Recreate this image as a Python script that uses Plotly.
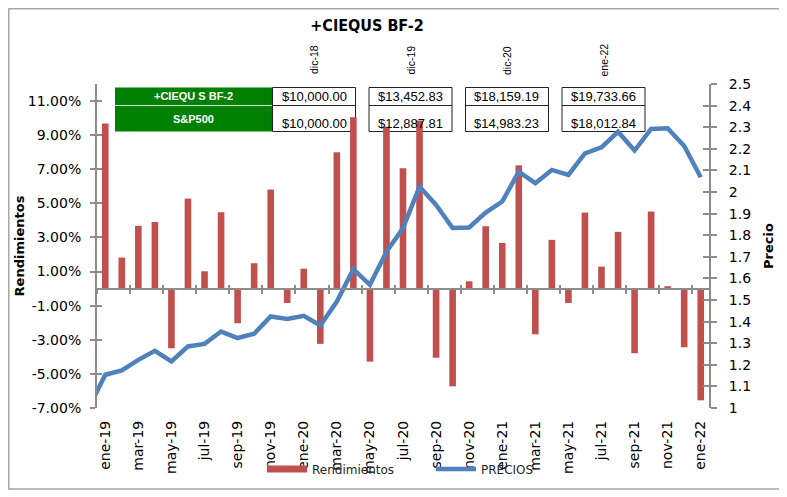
import plotly.graph_objects as go

# ---------------- data ----------------
months = ["ene-19", "feb-19", "mar-19", "abr-19", "may-19", "jun-19", "jul-19", "ago-19", "sep-19",
          "oct-19", "nov-19", "dic-19", "ene-20", "feb-20", "mar-20", "abr-20", "may-20", "jun-20",
          "jul-20", "ago-20", "sep-20", "oct-20", "nov-20", "dic-20", "ene-21", "feb-21", "mar-21",
          "abr-21", "may-21", "jun-21", "jul-21", "ago-21", "sep-21", "oct-21", "nov-21", "dic-21",
          "ene-22"]
rendimientos = [9.68, 1.82, 3.68, 3.91, -3.50, 5.28, 1.02, 4.48, -2.03,
                1.49, 5.81, -0.84, 1.17, -3.24, 8.00, 10.05, -4.28, 9.50,
                7.06, 9.86, -4.05, -5.73, 0.43, 3.66, 2.68, 7.23, -2.68,
                2.86, -0.84, 4.46, 1.29, 3.33, -3.79, 4.52, 0.14, -3.44,
                -6.55]
precio_meses = ["dic-18"] + months
precios = [1.000, 1.154, 1.174, 1.223, 1.265, 1.216, 1.285, 1.297, 1.354, 1.324,
           1.344, 1.424, 1.412, 1.427, 1.382, 1.493, 1.643, 1.570, 1.723,
           1.833, 2.025, 1.940, 1.833, 1.836, 1.905, 1.956, 2.094, 2.041,
           2.102, 2.079, 2.179, 2.207, 2.279, 2.192, 2.292, 2.295, 2.213,
           2.068]
tick_labels = months[::2]

table_headers = ["dic-18", "dic-19", "dic-20", "ene-22"]
table_rows = ["+CIEQU S BF-2", "S&P500"]
ciequs_vals = ["$10,000.00", "$13,452.83", "$18,159.19", "$19,733.66"]
sp500_vals = ["$10,000.00", "$12,887.81", "$14,983.23", "$18,012.84"]

# ---------------- layout geometry ----------------
# page body margin of the generated html (the figure is drawn 8px right/down)
OFF = 8
SW, SH = 787, 497              # screen size
W, H = SW - OFF, SH - OFF      # figure size
# plot area in screen pixels
SL, SR, ST, SB = 97, 709, 84, 408
L, R, T, B = SL - OFF, SR - OFF, ST - OFF, SB - OFF
Y_RANGE = [-7, 12]
Y2_RANGE = [1, 2.5]
Y_STEP, Y2_STEP = 2, 0.1

y_tickvals = list(range(Y_RANGE[0], Y_RANGE[1], Y_STEP))
y_ticktext = [f"{v:.2f}%" for v in y_tickvals]


def px(sx):
    """screen x pixel -> paper coordinate"""
    return (sx - SL) / (SR - SL)


def py(sy):
    """screen y pixel -> paper coordinate"""
    return (SB - sy) / (SB - ST)


def cx(sx):
    return (sx - OFF) / W


def cy(sy):
    return (SH - sy) / H


AX = "#8C8C8C"
RED = "#C0504D"
BLUE = "#4F81BD"
GREEN = "#008000"
FONT = "DejaVu Sans"

fig = go.Figure()
fig.add_trace(go.Bar(x=months, y=rendimientos, name="Rendimientos", legendgroup="rend", showlegend=False,
                     marker=dict(color=RED, line=dict(width=0)), width=0.4))
fig.add_trace(go.Scatter(x=precio_meses, y=precios, name="PRECIOS", yaxis="y2", legendrank=2,
                         mode="lines", line=dict(color=BLUE, width=4.5)))
# legend swatch for the bars (Excel-style wide rectangle)
fig.add_trace(go.Scatter(x=[None], y=[None], name="Rendimientos", legendgroup="rend", legendrank=1,
                         mode="lines", line=dict(color=RED, width=7), hoverinfo="skip"))
# helper (empty) traces so that the tick-mark overlay axes are drawn
for xa, ya in [("x2", "y"), ("x3", "y"), ("x", "y3"), ("x", "y4")]:
    fig.add_trace(go.Scatter(x=[None], y=[None], xaxis=xa, yaxis=ya, showlegend=False,
                             hoverinfo="skip", mode="lines"))

zero_pos = (0 - Y_RANGE[0]) / (Y_RANGE[1] - Y_RANGE[0])
ncat = len(precio_meses)

common_x_ticks = dict(type="linear", range=[0.5, ncat - 0.5], tickmode="linear", tick0=2.5, dtick=2,
                      showticklabels=False, showgrid=False, zeroline=False, automargin=False,
                      anchor="free", position=zero_pos, overlaying="x",
                      tickcolor=AX, tickwidth=1.5, ticklen=4)

fig.update_layout(
    template="none",
    width=W, height=H,
    margin=dict(l=L, r=W - R, t=T, b=H - B, pad=0, autoexpand=False),
    paper_bgcolor="white", plot_bgcolor="rgba(0,0,0,0)",
    font=dict(family=FONT, color="black", size=14),
    showlegend=True,
    bargap=0.6,
    title=dict(text="<b>+CIEQUS BF-2</b>", x=cx(367), xanchor="center", y=cy(25), yanchor="middle",
               font=dict(family="Liberation Sans Narrow, DejaVu Sans Condensed", size=16, color="black")),
    xaxis=dict(type="category", categoryorder="array", categoryarray=precio_meses, automargin=False,
               range=[0.5, ncat - 0.5], tickmode="array", tickvals=tick_labels, ticktext=tick_labels,
               tickangle=-90, showline=False, ticks="", showgrid=False, zeroline=False,
               tickfont=dict(family=FONT, size=14, color="black"), ticklabelstandoff=9),
    xaxis2=dict(common_x_ticks, ticks="outside", showline=True, linecolor=AX, linewidth=2),
    xaxis3=dict(common_x_ticks, ticks="inside", showline=False),
    yaxis=dict(range=Y_RANGE, tickmode="array", tickvals=y_tickvals, ticktext=y_ticktext,
               ticks="outside", ticklen=5, tickcolor=AX, tickwidth=1.5, automargin=False,
               showline=True, linecolor=AX, linewidth=2, showgrid=False, zeroline=False,
               tickfont=dict(family=FONT, size=14, color="black"), ticklabelstandoff=6,
               title=dict(text="<b>Rendimientos</b>", standoff=0,
                          font=dict(family=FONT, size=13, color="black"))),
    yaxis3=dict(range=Y_RANGE, tickmode="array", tickvals=y_tickvals, overlaying="y",
                side="left", ticks="inside", ticklen=5, tickcolor=AX, tickwidth=1.5, automargin=False,
                showticklabels=False, showline=False, showgrid=False, zeroline=False),
    yaxis2=dict(range=Y2_RANGE, tickmode="linear", tick0=Y2_RANGE[0], dtick=Y2_STEP, overlaying="y",
                side="right", ticks="outside", ticklen=6, tickcolor=AX, tickwidth=1.5, automargin=False,
                showline=True, linecolor=AX, linewidth=2, showgrid=False, zeroline=False,
                tickfont=dict(family=FONT, size=14, color="black"), ticklabelstandoff=9,
                title=dict(text="<b>Precio</b>", standoff=14,
                           font=dict(family=FONT, size=13, color="black"))),
    yaxis4=dict(range=Y2_RANGE, tickmode="linear", tick0=Y2_RANGE[0], dtick=Y2_STEP, overlaying="y",
                side="right", ticks="inside", ticklen=6, tickcolor=AX, tickwidth=1.5, automargin=False,
                showticklabels=False, showline=False, showgrid=False, zeroline=False),
    legend=dict(orientation="h", xref="container", yref="container", x=cx(262), xanchor="left",
                y=cy(469), yanchor="middle", bgcolor="rgba(0,0,0,0)",
                font=dict(family=FONT, size=12, color="#262626"),
                itemwidth=40, entrywidth=114, traceorder="normal"),
)

shapes = []
annotations = []
# outer chart border
shapes.append(dict(type="rect", xref="paper", yref="paper", x0=px(OFF + 0.8), x1=px(780), y0=py(489),
                   y1=py(OFF + 0.8), line=dict(color="#A6A6A6", width=1.5), fillcolor="rgba(0,0,0,0)",
                   layer="below"))

# table geometry (screen pixels)
tab_top, tab_mid, tab_bot = 87.5, 105.5, 131.5
lab_x0, lab_x1 = 115, 272.5
box_w, box_pitch = 83, 96.5
shapes.append(dict(type="rect", xref="paper", yref="paper", x0=px(lab_x0), x1=px(lab_x1),
                   y0=py(tab_bot), y1=py(tab_top), fillcolor=GREEN, line=dict(width=0), layer="below"))
shapes.append(dict(type="line", xref="paper", yref="paper", x0=px(lab_x0), x1=px(lab_x1),
                   y0=py(tab_mid), y1=py(tab_mid), line=dict(color="#D8E8D8", width=1), layer="below"))
row_y = [96.5, 118.5]
for r, label in enumerate(table_rows):
    annotations.append(dict(xref="paper", yref="paper", x=px((lab_x0 + lab_x1) / 2), y=py(row_y[r]),
                            text="<b>" + label + "</b>", showarrow=False, xanchor="center", yanchor="middle",
                            font=dict(family="Liberation Sans", size=11, color="white")))
for k, hdr in enumerate(table_headers):
    x0 = lab_x1 + k * box_pitch
    x1 = x0 + box_w
    shapes.append(dict(type="rect", xref="paper", yref="paper", x0=px(x0), x1=px(x1),
                       y0=py(tab_bot), y1=py(tab_top), fillcolor="white",
                       line=dict(color="#222222", width=1), layer="below"))
    shapes.append(dict(type="line", xref="paper", yref="paper", x0=px(x0), x1=px(x1),
                       y0=py(tab_mid), y1=py(tab_mid), line=dict(color="#222222", width=1), layer="below"))
    xc = px((x0 + x1) / 2)
    annotations.append(dict(xref="paper", yref="paper", x=xc, y=py(60), text=hdr, textangle=-90,
                            showarrow=False, xanchor="center", yanchor="middle",
                            font=dict(family="Liberation Sans", size=10.5, color="black")))
    annotations.append(dict(xref="paper", yref="paper", x=xc, y=py(97), text=ciequs_vals[k],
                            showarrow=False, xanchor="center", yanchor="middle",
                            font=dict(family="Liberation Sans", size=13, color="black")))
    annotations.append(dict(xref="paper", yref="paper", x=xc, y=py(123.5), text=sp500_vals[k],
                            showarrow=False, xanchor="center", yanchor="middle",
                            font=dict(family="Liberation Sans", size=13, color="black")))

fig.update_layout(shapes=shapes, annotations=annotations)
fig.write_html("out.html")
